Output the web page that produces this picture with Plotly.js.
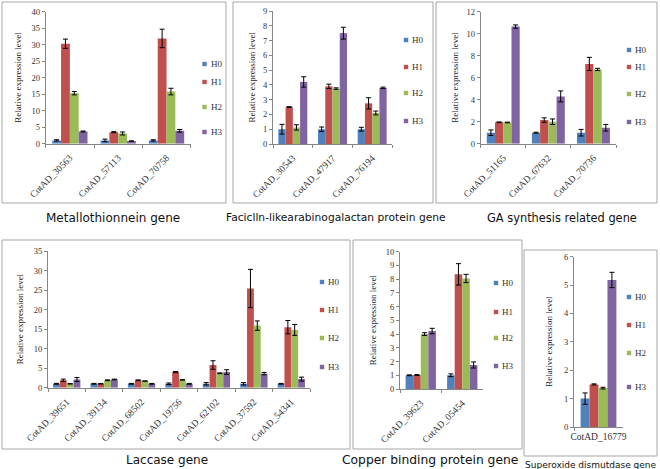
<!DOCTYPE html>
<html>
<head>
<meta charset="utf-8">
<script src="https://cdn.plot.ly/plotly-3.0.1.min.js"></script>
<style>html,body{margin:0;padding:0;background:#fff;}#chart{width:660px;height:469px;}</style>
</head>
<body>
<div id="chart"></div>
<script>
// ---- data ----
const seriesNames = ['H0', 'H1', 'H2', 'H3'];

// Metallothionnein gene
const metCats = ['CotAD_30563', 'CotAD_57113', 'CotAD_70758'];
const metVals = [[1, 1, 1], [30.3, 3.5, 31.9], [15.3, 3.1, 15.8], [3.7, 0.8, 3.9]];
const metErr  = [[0.2, 0.4, 0.2], [1.4, 0.15, 2.8], [0.5, 0.45, 1.0], [0.15, 0.05, 0.4]];

// Faciclln-like arabinogalactan protein gene
const fasCats = ['CotAD_30543', 'CotAD_47917', 'CotAD_76194'];
const fasVals = [[1, 1, 1], [2.5, 3.9, 2.75], [1.12, 3.75, 2.1], [4.2, 7.5, 3.8]];
const fasErr  = [[0.33, 0.15, 0.13], [0.03, 0.15, 0.38], [0.18, 0.05, 0.13], [0.35, 0.4, 0.05]];

// GA synthesis related gene
const gaCats = ['CotAD_51165', 'CotAD_67632', 'CotAD_70736'];
const gaVals = [[1, 1, 1], [1.95, 2.15, 7.25], [1.93, 2.0, 6.75], [10.65, 4.3, 1.45]];
const gaErr  = [[0.25, 0.04, 0.3], [0.03, 0.2, 0.6], [0.03, 0.25, 0.1], [0.15, 0.5, 0.3]];

// Laccase gene
const lacCats = ['CotAD_39651', 'CotAD_39134', 'CotAD_68502', 'CotAD_19756', 'CotAD_62102', 'CotAD_37592', 'CotAD_54341'];
const lacVals = [[1, 1, 1, 1, 1, 1, 1], [1.9, 1.0, 1.9, 4.0, 5.8, 25.4, 15.5], [1.0, 1.9, 1.7, 2.0, 3.7, 15.9, 14.8], [2.1, 2.1, 1.0, 1.0, 4.0, 3.6, 2.2]];
const lacErr  = [[0.1, 0.1, 0.1, 0.2, 0.3, 0.3, 0.1], [0.3, 0.05, 0.1, 0.15, 1.1, 4.9, 1.7], [0.05, 0.1, 0.05, 0.05, 0.1, 1.2, 1.4], [0.5, 0.1, 0.1, 0.1, 0.6, 0.3, 0.5]];

// Copper binding protein gene
const cuCats = ['CotAD_39623', 'CotAD_05454'];
const cuVals = [[1, 1], [1.02, 8.35], [4.0, 8.05], [4.22, 1.75]];
const cuErr  = [[0.03, 0.1], [0.03, 0.78], [0.1, 0.3], [0.2, 0.22]];

// Superoxide dismutdase gene
const sodCats = ['CotAD_16779'];
const sodVals = [[1.0], [1.5], [1.37], [5.18]];
const sodErr  = [[0.2], [0.02], [0.03], [0.27]];

const panelTitles = ['Metallothionnein gene', 'Faciclln-likearabinogalactan protein gene', 'GA synthesis related gene',
                     'Laccase gene', 'Copper binding protein gene', 'Superoxide dismutdase gene'];
const yTitle = 'Relative expression level';

// ---- styling / layout ----
const colors = ['#4F81BD', '#C0504D', '#9BBB59', '#8064A2'];
const W = 660, H = 469;
const px = x => x / W;
const py = y => 1 - y / H;
const serif = 'Liberation Serif';
const sans = 'DejaVu Sans';

const panels = [
  {cats: metCats, vals: metVals, err: metErr, xd: [45.7, 190.7], yd: [11.7, 143.7], range: [0, 40], dtick: 5, ytx: 18, angle: -45,
   frame: [2, 2, 226, 203], legX: 204.5, legY: [64, 82, 107, 132], title: [113, 218, 12]},
  {cats: fasCats, vals: fasVals, err: fasErr, xd: [273, 392], yd: [11, 144], range: [0, 9], dtick: 1, ytx: 251, angle: -45,
   frame: [233, 2, 433, 203], legX: 406, legY: [40, 67, 93, 121], title: [336, 218, 10.7]},
  {cats: gaCats, vals: gaVals, err: gaErr, xd: [480.7, 616], yd: [11.7, 143.7], range: [0, 12], dtick: 2, ytx: 455, angle: -45,
   frame: [436, 2, 657, 203], legX: 629, legY: [50, 67, 94, 122], title: [562, 218, 11.4]},
  {cats: lacCats, vals: lacVals, err: lacErr, xd: [48, 310], yd: [251, 387.7], range: [0, 35], dtick: 5, ytx: 20, angle: -45,
   frame: [2, 240, 350, 449], legX: 322, legY: [282, 310, 338, 367], title: [167, 460, 12]},
  {cats: cuCats, vals: cuVals, err: cuErr, xd: [400, 483], yd: [251.7, 389], range: [0, 10], dtick: 1, ytx: 373, angle: -45,
   frame: [353, 240, 522, 449], legX: 496, legY: [283, 312, 338, 366], title: [430, 460, 12.3]},
  {cats: sodCats, vals: sodVals, err: sodErr, xd: [574, 623], yd: [256.7, 427], range: [0, 6], dtick: 1, ytx: 549, angle: 0,
   frame: [524, 250, 657, 456], legX: 629, legY: [297, 325, 353, 387], title: [591, 465, 9]}
];

const traces = [];
const layout = {
  width: W, height: H,
  margin: {l: 0, r: 0, t: 0, b: 0},
  paper_bgcolor: '#ffffff', plot_bgcolor: 'rgba(0,0,0,0)',
  barmode: 'group', bargap: 0.27, bargroupgap: 0,
  showlegend: false,
  font: {family: serif},
  shapes: [], annotations: []
};

panels.forEach((p, i) => {
  const n = i === 0 ? '' : String(i + 1);
  const xa = 'x' + n, ya = 'y' + n;
  seriesNames.forEach((s, k) => {
    traces.push({
      type: 'bar', name: s, x: p.cats, y: p.vals[k],
      xaxis: xa, yaxis: ya,
      marker: {color: colors[k], line: {width: 0}},
      error_y: {type: 'data', array: p.err[k], visible: true, color: '#000', thickness: 1, width: 2.5},
      hoverinfo: 'x+y+name'
    });
  });
  layout['xaxis' + n] = {
    domain: [px(p.xd[0]), px(p.xd[1])], anchor: ya,
    type: 'category', showline: true, linecolor: '#868686', linewidth: 1,
    ticks: 'outside', tickson: 'boundaries', ticklen: 3, tickcolor: '#868686',
    ticklabelstandoff: p.angle ? 4 : 1,
    tickangle: p.angle, tickfont: {family: serif, size: 9.5, color: '#333'},
    showgrid: false, zeroline: false, fixedrange: true
  };
  layout['yaxis' + n] = {
    domain: [py(p.yd[1]), py(p.yd[0])], anchor: xa,
    range: p.range, dtick: p.dtick, showline: true, linecolor: '#868686', linewidth: 1,
    ticks: 'outside', ticklen: 3, tickcolor: '#868686',
    tickfont: {family: serif, size: 8.5, color: '#333'},
    showgrid: false, zeroline: false, fixedrange: true
  };
  // y axis title
  layout.annotations.push({xref: 'paper', yref: 'paper', x: px(p.ytx), y: py((p.yd[0] + p.yd[1]) / 2),
    xanchor: 'center', yanchor: 'middle', textangle: -90, showarrow: false, text: yTitle,
    font: {family: serif, size: 9, color: '#222'}});
  // panel frame
  layout.shapes.push({type: 'rect', xref: 'paper', yref: 'paper',
    x0: px(p.frame[0]), x1: px(p.frame[2]), y0: py(p.frame[3]), y1: py(p.frame[1]),
    line: {color: '#A6A6A6', width: 1}, fillcolor: 'rgba(0,0,0,0)'});
  // legend
  seriesNames.forEach((s, k) => {
    const cy = p.legY[k];
    layout.shapes.push({type: 'rect', xref: 'paper', yref: 'paper',
      x0: px(p.legX - 2.2), x1: px(p.legX + 2.2), y0: py(cy + 2.2), y1: py(cy - 2.2),
      line: {width: 0}, fillcolor: colors[k]});
    layout.annotations.push({xref: 'paper', yref: 'paper', x: px(p.legX + 4), y: py(cy),
      xanchor: 'left', yanchor: 'middle', showarrow: false, text: s,
      font: {family: serif, size: 9, color: '#333'}});
  });
  // caption
  layout.annotations.push({xref: 'paper', yref: 'paper', x: px(p.title[0]), y: py(p.title[1]),
    xanchor: 'center', yanchor: 'middle', showarrow: false, text: panelTitles[i],
    font: {family: sans, size: p.title[2], color: '#111'}});
});

Plotly.newPlot('chart', traces, layout, {displayModeBar: false, staticPlot: true});
</script>
</body>
</html>
